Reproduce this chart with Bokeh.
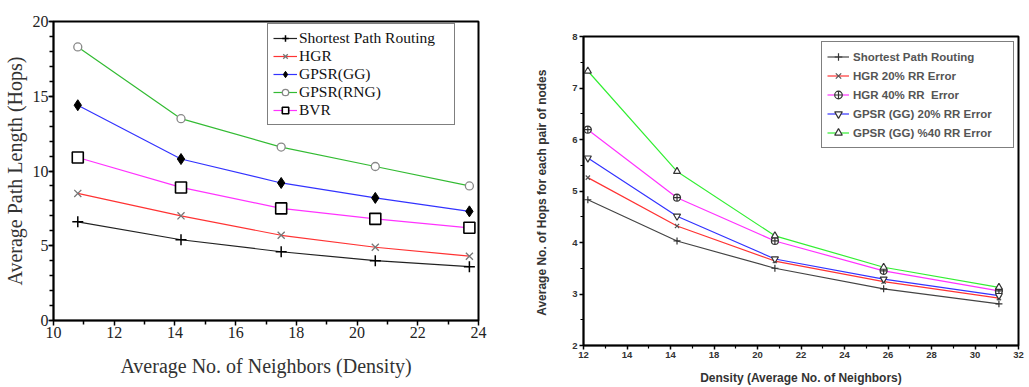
from bokeh.plotting import figure
from bokeh.layouts import row, column
from bokeh.models import FixedTicker, Range1d
from bokeh.embed import file_html
from bokeh.resources import INLINE

# ---------------- Left chart data ----------------
left_x = [10.8, 14.2, 17.5, 20.6, 23.7]
left_series = ["Shortest Path Routing", "HGR", "GPSR(GG)", "GPSR(RNG)", "BVR"]
sp_left = [6.6, 5.4, 4.6, 4.0, 3.6]
hgr_left = [8.5, 7.0, 5.7, 4.9, 4.3]
gg_left = [14.4, 10.8, 9.2, 8.2, 7.3]
rng_left = [18.3, 13.5, 11.6, 10.3, 9.0]
bvr_left = [10.9, 8.9, 7.5, 6.8, 6.2]
left_xticks = [10, 12, 14, 16, 18, 20, 22, 24]
left_yticks = [0, 5, 10, 15, 20]

# ---------------- Right chart data ----------------
right_x = [12.2, 16.3, 20.8, 25.8, 31.1]
right_series = ["Shortest Path Routing", "HGR 20% RR Error", "HGR 40% RR  Error",
                "GPSR (GG) 20% RR Error", "GPSR (GG) %40 RR Error"]
sp_right = [4.83, 4.03, 3.50, 3.10, 2.81]
hgr20_right = [5.26, 4.32, 3.64, 3.24, 2.92]
hgr40_right = [6.19, 4.87, 4.03, 3.45, 3.06]
gg20_right = [5.64, 4.51, 3.68, 3.29, 2.97]
gg40_right = [7.33, 5.38, 4.13, 3.52, 3.13]
right_xticks = [12, 14, 16, 18, 20, 22, 24, 26, 28, 30, 32]
right_xtick_labels = ["12", "14", "14", "18", "20", "22", "24", "26", "28", "30", "32"]
right_yticks = [2, 3, 4, 5, 6, 7, 8]

SERIF = "Liberation Serif"
SANS = "Liberation Sans"

# ================= Left figure =================
p1 = figure(width=516, height=387, x_range=Range1d(10, 24), y_range=Range1d(0, 20),
            output_backend="svg", toolbar_location=None,
            min_border_left=53, min_border_right=38, min_border_top=21, min_border_bottom=67)
p1.grid.visible = False
p1.outline_line_color = "black"
p1.outline_line_width = 2

p1.xaxis.ticker = FixedTicker(ticks=left_xticks, minor_ticks=[11, 13, 15, 17, 19, 21, 23])
p1.yaxis.ticker = FixedTicker(ticks=left_yticks, minor_ticks=list(range(0, 21)))
for ax in (p1.xaxis[0], p1.yaxis[0]):
    ax.axis_line_color = "black"
    ax.axis_line_width = 1.5
    ax.major_tick_line_color = "black"
    ax.major_tick_line_width = 1.5
    ax.minor_tick_line_color = "black"
    ax.minor_tick_line_width = 1.5
    ax.major_tick_in = 0
    ax.major_tick_out = 5
    ax.minor_tick_in = 0
    ax.minor_tick_out = 4
    ax.major_label_text_font = SERIF
    ax.major_label_text_font_size = "16px"
    ax.major_label_text_color = "#222222"
    ax.axis_label_text_font = SERIF
    ax.axis_label_text_font_size = "20px"
    ax.axis_label_text_font_style = "normal"
    ax.axis_label_text_color = "#333333"
p1.xaxis.axis_label = "Average No. of Neighbors (Density)"
p1.yaxis.axis_label = "Average Path Length (Hops)"
p1.xaxis.major_label_standoff = 1
p1.xaxis.axis_label_standoff = 14
p1.yaxis.major_label_standoff = 0
p1.yaxis.axis_label_standoff = 4

left_styles = [
    (sp_left, "#222222", dict(marker="cross", size=11, line_color="black", line_width=1.5)),
    (hgr_left, "#ff3333", dict(marker="x", size=10, line_color="#777777", line_width=1.3)),
    (gg_left, "#3333ff", dict(marker="diamond", size=11, line_color="black", fill_color="black")),
    (rng_left, "#33bb33", dict(marker="circle", size=8, line_color="#888888", fill_color="white", line_width=1.3)),
    (bvr_left, "#ff33ff", dict(marker="square", size=11, line_color="black", fill_color="white", line_width=1.6)),
]
for name, (ys, col, mk) in zip(left_series, left_styles):
    p1.line(left_x, ys, line_color=col, line_width=1.2, legend_label=name)
    p1.scatter(left_x, ys, legend_label=name, **mk)

lg1 = p1.legend[0]
lg1.location = (214, 195)
lg1.border_line_color = "black"
lg1.border_line_width = 1.5
lg1.background_fill_alpha = 1
lg1.label_text_font = SERIF
lg1.label_text_font_size = "15.5px"
lg1.label_text_color = "#111111"
lg1.glyph_height = 16
lg1.glyph_width = 24
lg1.label_height = 16
lg1.label_width = 150
lg1.spacing = 0
lg1.padding = 5
lg1.margin = 0
lg1.label_standoff = 2

# ================= Right figure =================
p2 = figure(width=513, height=387, x_range=Range1d(12, 32), y_range=Range1d(2, 8),
            output_backend="svg", toolbar_location=None,
            min_border_left=67, min_border_right=11, min_border_top=36, min_border_bottom=41)
p2.grid.visible = False
p2.outline_line_color = "black"
p2.outline_line_width = 2
p2.xaxis.ticker = FixedTicker(ticks=right_xticks, minor_ticks=list(range(13, 32, 2)))
p2.yaxis.ticker = FixedTicker(ticks=right_yticks, minor_ticks=[2.5, 3.5, 4.5, 5.5, 6.5, 7.5])
p2.xaxis.major_label_overrides = {t: lab for t, lab in zip(right_xticks, right_xtick_labels)}
for ax in (p2.xaxis[0], p2.yaxis[0]):
    ax.axis_line_color = "black"
    ax.axis_line_width = 1.5
    ax.major_tick_line_color = "black"
    ax.major_tick_line_width = 1.5
    ax.minor_tick_line_color = "black"
    ax.minor_tick_line_width = 1.2
    ax.major_tick_in = 0
    ax.major_tick_out = 4
    ax.minor_tick_in = 0
    ax.minor_tick_out = 3
    ax.major_label_text_font = SANS
    ax.major_label_text_font_size = "9.5px"
    ax.major_label_text_font_style = "bold"
    ax.major_label_text_color = "#333333"
    ax.axis_label_text_font = SANS
    ax.axis_label_text_font_size = "12px"
    ax.axis_label_text_font_style = "bold"
    ax.axis_label_text_color = "#333333"
p2.xaxis.axis_label = "Density (Average No. of Neighbors)"
p2.yaxis.axis_label = "Average No. of Hops  for each pair of nodes"
p2.xaxis.major_label_standoff = 2
p2.xaxis.axis_label_standoff = 10
p2.yaxis.major_label_standoff = 2
p2.yaxis.axis_label_standoff = 20

right_styles = [
    (sp_right, "#444444", dict(marker="cross", size=7, line_color="#333333", line_width=1.2)),
    (hgr20_right, "#ff3333", dict(marker="x", size=6, line_color="#555555", line_width=1.2)),
    (hgr40_right, "#ff33ff", dict(marker="circle_cross", size=7, line_color="#333333", fill_color="white", line_width=1.2)),
    (gg20_right, "#3333ff", dict(marker="inverted_triangle", size=7, line_color="#333333", fill_color="white", line_width=1.2)),
    (gg40_right, "#33ee33", dict(marker="triangle", size=7, line_color="#333333", fill_color="white", line_width=1.2)),
]
for name, (ys, col, mk) in zip(right_series, right_styles):
    p2.line(right_x, ys, line_color=col, line_width=1.2, legend_label=name)
    p2.scatter(right_x, ys, legend_label=name, **mk)

lg2 = p2.legend[0]
lg2.location = (238, 197)
lg2.border_line_color = "black"
lg2.border_line_width = 1.5
lg2.label_text_font = SANS
lg2.label_text_font_size = "11.5px"
lg2.label_text_font_style = "bold"
lg2.label_text_color = "#555555"
lg2.glyph_height = 19
lg2.glyph_width = 22
lg2.label_height = 19
lg2.label_width = 155
lg2.spacing = 0
lg2.padding = 5
lg2.margin = 0
lg2.label_standoff = 4

layout = row(column(p1), column(p2))
open("out.html", "w").write(file_html(layout, INLINE))
